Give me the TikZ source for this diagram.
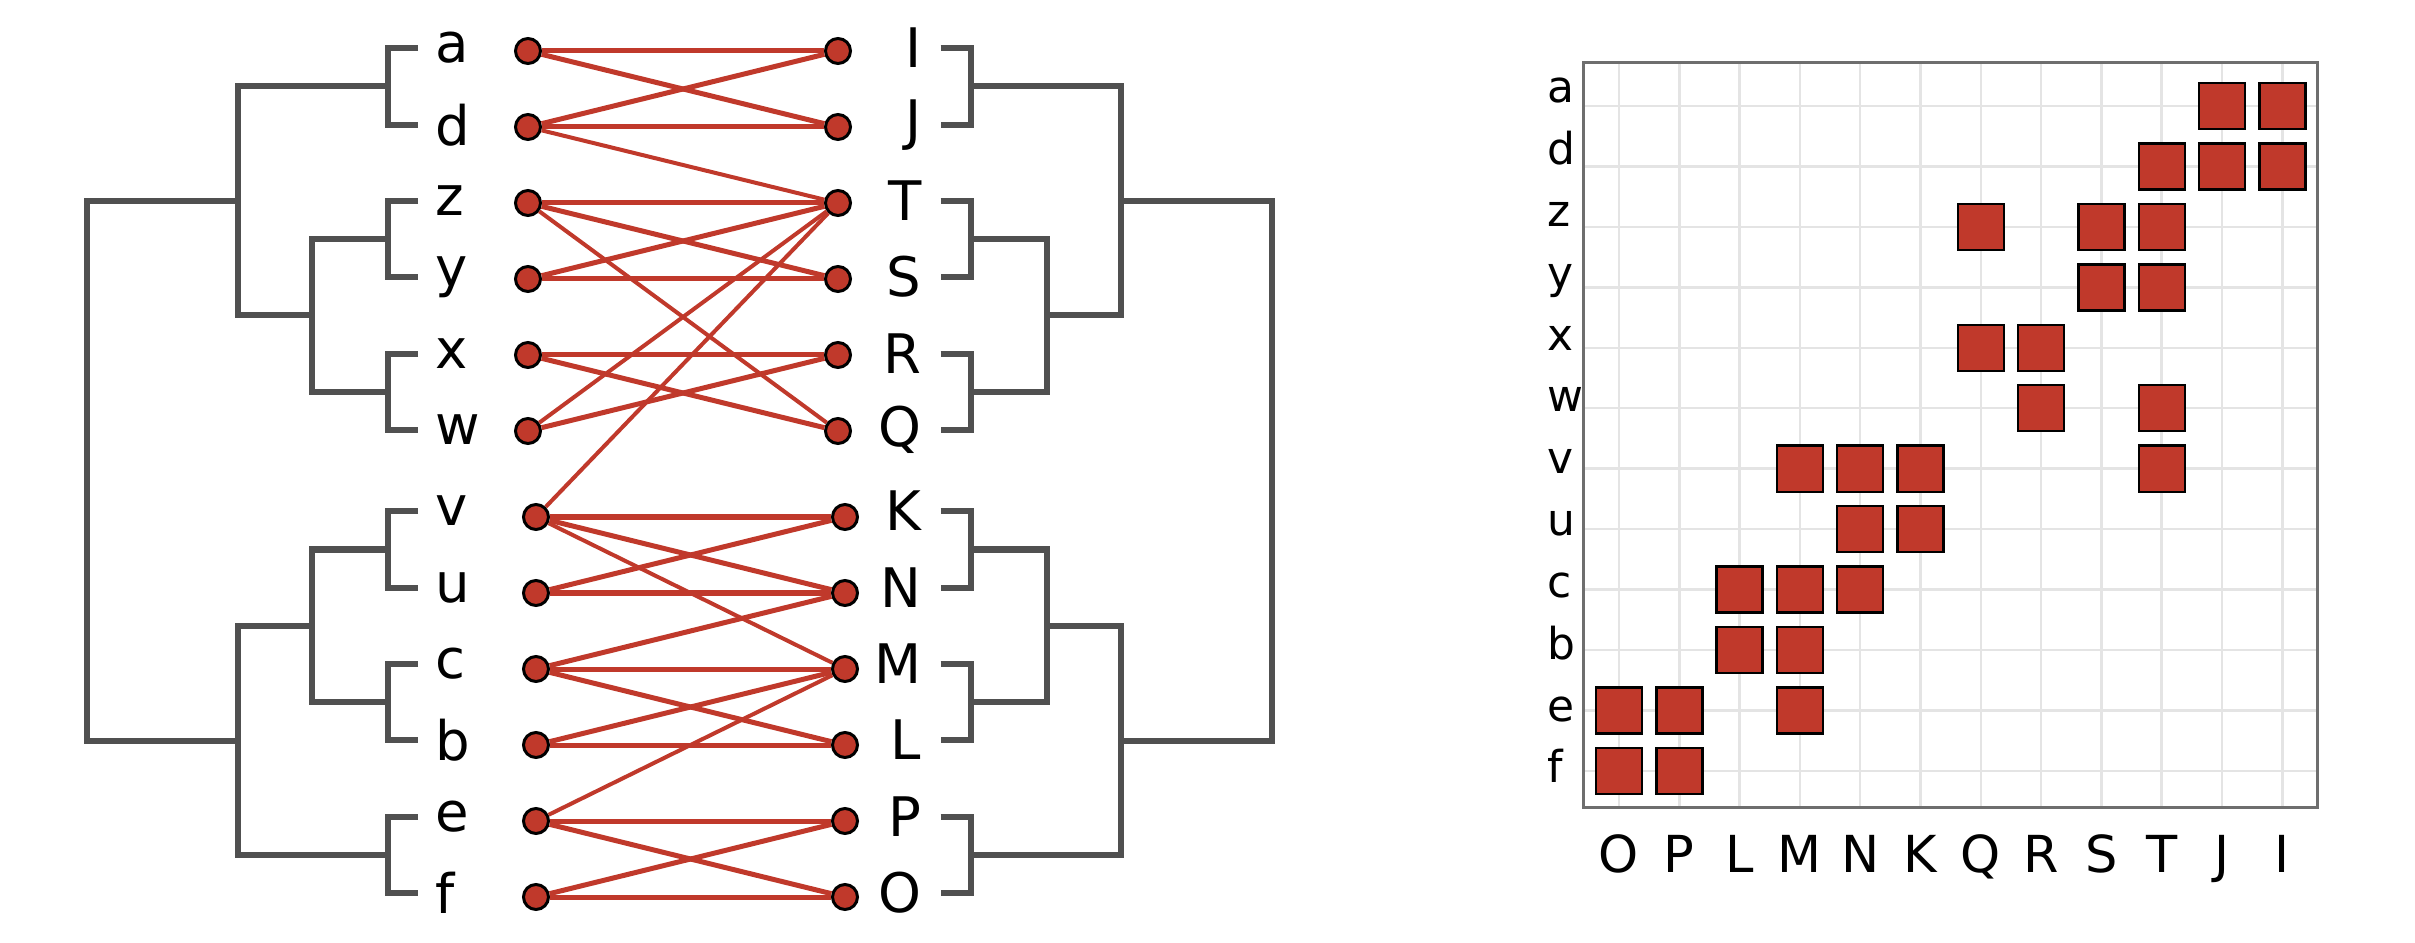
\documentclass[tikz,border=0pt]{standalone}
\usepackage{fontspec}
\setmainfont{DejaVu Sans}
\usetikzlibrary{calc}
\definecolor{linkred}{RGB}{192,57,43}
\definecolor{treegray}{RGB}{80,80,80}
\definecolor{framegray}{RGB}{110,110,110}
\definecolor{gridgray}{RGB}{228,228,228}
\tikzset{
    tree/.style = {
        draw = treegray,
        line width = 0.06cm,
        },
    link/.style = {
        draw = linkred,
        line width = 0.05cm,
        },
    long link/.style = {
        line width = 0.04cm,
        },
    red dot/.style = {
        circle,
        fill = linkred,
        draw = black,
        line width = 0.03cm,
        minimum size = 0.25cm,
        inner sep = 0pt,
        },
    leaf left/.style = {
        anchor = west,
        inner sep = 0pt,
        font = \fontsize{15.5}{18}\selectfont,
        },
    leaf right/.style = {
        anchor = east,
        inner sep = 0pt,
        font = \fontsize{15.5}{18}\selectfont,
        },
    cell/.style = {
        rectangle,
        fill = linkred,
        draw = black,
        line width = 0.024cm,
        minimum size = 0.46cm,
        inner sep = 0pt,
        },
    grid line/.style = {
        draw = gridgray,
        line width = 0.025cm,
        },
    frame/.style = {
        draw = framegray,
        line width = 0.03cm,
        },
    row label/.style = {
        anchor = base west,
        inner sep = 0pt,
        font = \fontsize{12.5}{15}\selectfont,
        },
    col label/.style = {
        anchor = base,
        inner sep = 0pt,
        font = \fontsize{14.5}{17}\selectfont,
        },
}

\begin{document}
\begin{tikzpicture}[x=0.01cm, y=-0.01cm]
    \useasboundingbox (0,0) rectangle (2415,943);

    % left tree
    \foreach \n/\y in {a/48,d/125,z/201,y/277,x/354,w/430,v/511,u/588,c/664,b/740,e/817,f/893}
        \coordinate (t\n) at (418,\y);
    \coordinate (ad) at (388,86.5);
    \coordinate (zy) at (388,239);
    \coordinate (xw) at (388,392);
    \coordinate (vu) at (388,549.5);
    \coordinate (cb) at (388,702);
    \coordinate (ef) at (388,855);
    \coordinate (zyxw) at (312,315.5);
    \coordinate (vucb) at (312,626);
    \coordinate (ltop) at (238,201);
    \coordinate (lbot) at (238,740.5);
    \coordinate (lroot) at (87,470);

    \draw[tree] (ta) -| (ad) |- (td);
    \draw[tree] (tz) -| (zy) |- (ty);
    \draw[tree] (tx) -| (xw) |- (tw);
    \draw[tree] (tv) -| (vu) |- (tu);
    \draw[tree] (tc) -| (cb) |- (tb);
    \draw[tree] (te) -| (ef) |- (tf);
    \draw[tree] (zy) -| (zyxw) |- (xw);
    \draw[tree] (vu) -| (vucb) |- (cb);
    \draw[tree] (ad) -| (ltop) |- (zyxw);
    \draw[tree] (vucb) -| (lbot) |- (ef);
    \draw[tree] (ltop) -| (lroot) |- (lbot);

    % right tree
    \foreach \n/\y in {I/48,J/125,T/201,S/277,R/354,Q/430,K/511,N/588,M/664,L/740,P/817,O/893}
        \coordinate (t\n) at (940.5,\y);
    \coordinate (IJ) at (970.5,86.5);
    \coordinate (TS) at (970.5,239);
    \coordinate (RQ) at (970.5,392);
    \coordinate (KN) at (970.5,549.5);
    \coordinate (ML) at (970.5,702);
    \coordinate (PO) at (970.5,855);
    \coordinate (TSRQ) at (1046.5,315.5);
    \coordinate (KNML) at (1046.5,626);
    \coordinate (rtop) at (1120.5,201);
    \coordinate (rbot) at (1120.5,740.5);
    \coordinate (rroot) at (1271.5,470);

    \draw[tree] (tI) -| (IJ) |- (tJ);
    \draw[tree] (tT) -| (TS) |- (tS);
    \draw[tree] (tR) -| (RQ) |- (tQ);
    \draw[tree] (tK) -| (KN) |- (tN);
    \draw[tree] (tM) -| (ML) |- (tL);
    \draw[tree] (tP) -| (PO) |- (tO);
    \draw[tree] (TS) -| (TSRQ) |- (RQ);
    \draw[tree] (KN) -| (KNML) |- (ML);
    \draw[tree] (IJ) -| (rtop) |- (TSRQ);
    \draw[tree] (KNML) -| (rbot) |- (PO);
    \draw[tree] (rtop) -| (rroot) |- (rbot);

    % leaf labels
    \foreach \n/\y in {a/48,d/125,z/201,y/277,x/354,w/430,v/511,u/588,c/664,b/740,e/817,f/893}
        \node[leaf left] (l\n) at (435,\y) {\n};
    \foreach \n/\y in {I/48,J/125,T/201,S/277,R/354,Q/430,K/511,N/588,M/664,L/740,P/817,O/893}
        \node[leaf right] (l\n) at (922,\y) {\n};

    % dots
    \node[red dot] (a) at (528,51) {};
    \node[red dot] (d) at (528,127) {};
    \node[red dot] (z) at (528,203) {};
    \node[red dot] (y) at (528,279) {};
    \node[red dot] (x) at (528,355) {};
    \node[red dot] (w) at (528,431) {};
    \node[red dot] (v) at (536,517) {};
    \node[red dot] (u) at (536,593) {};
    \node[red dot] (c) at (536,669) {};
    \node[red dot] (b) at (536,745) {};
    \node[red dot] (e) at (536,821) {};
    \node[red dot] (f) at (536,897) {};
    \node[red dot] (I) at (838,51) {};
    \node[red dot] (J) at (838,127) {};
    \node[red dot] (T) at (838,203) {};
    \node[red dot] (S) at (838,279) {};
    \node[red dot] (R) at (838,355) {};
    \node[red dot] (Q) at (838,431) {};
    \node[red dot] (K) at (845,517) {};
    \node[red dot] (N) at (845,593) {};
    \node[red dot] (M) at (845,669) {};
    \node[red dot] (L) at (845,745) {};
    \node[red dot] (P) at (845,821) {};
    \node[red dot] (O) at (845,897) {};

    % links
    \path (a) edge[link] (I);
    \path (a) edge[link] (J);
    \path (d) edge[link] (I);
    \path (d) edge[link] (J);
    \path (d) edge[link, long link] (T);
    \path (z) edge[link] (T);
    \path (z) edge[link] (S);
    \path (z) edge[link, long link] (Q);
    \path (y) edge[link] (T);
    \path (y) edge[link] (S);
    \path (x) edge[link] (R);
    \path (x) edge[link] (Q);
    \path (w) edge[link] (R);
    \path (w) edge[link, long link] (T);
    \path (v) edge[link, long link] (T);
    \path (v) edge[link] (K);
    \path (v) edge[link] (N);
    \path (v) edge[link, long link] (M);
    \path (u) edge[link] (K);
    \path (u) edge[link] (N);
    \path (c) edge[link] (N);
    \path (c) edge[link] (M);
    \path (c) edge[link] (L);
    \path (b) edge[link] (M);
    \path (b) edge[link] (L);
    \path (e) edge[link, long link] (M);
    \path (e) edge[link] (P);
    \path (e) edge[link] (O);
    \path (f) edge[link] (P);
    \path (f) edge[link] (O);

    % matrix
    \foreach \cname [count=\ci from 0] in {O,P,L,M,N,K,Q,R,S,T,J,I} {
        \coordinate (g\cname) at ({1619+60.3*\ci},807);
        \draw[grid line] (g\cname) -- ++(0,-744);
        \node[col label] (c\cname) at ({1619+60.3*\ci},872) {\cname};
    }
    \foreach \rname [count=\rj from 0] in {a,d,z,y,x,w,v,u,c,b,e,f} {
        \coordinate (h\rname) at (1583,{106+60.45*\rj});
        \draw[grid line] (h\rname) -- ++(734,0);
        \node[row label] (r\rname) at (1547,{103+61.8*\rj}) {\rname};
    }
    \draw[frame] (1583,63) rectangle (2317,807);
    \foreach \rname/\cname in {a/J,a/I,d/T,d/J,d/I,z/Q,z/S,z/T,y/S,y/T,x/Q,x/R,w/R,w/T,
        v/M,v/N,v/K,v/T,u/N,u/K,c/L,c/M,c/N,b/L,b/M,e/O,e/P,e/M,f/O,f/P}
        \node[cell] (m\rname\cname) at (g\cname |- h\rname) {};
\end{tikzpicture}
\end{document}
